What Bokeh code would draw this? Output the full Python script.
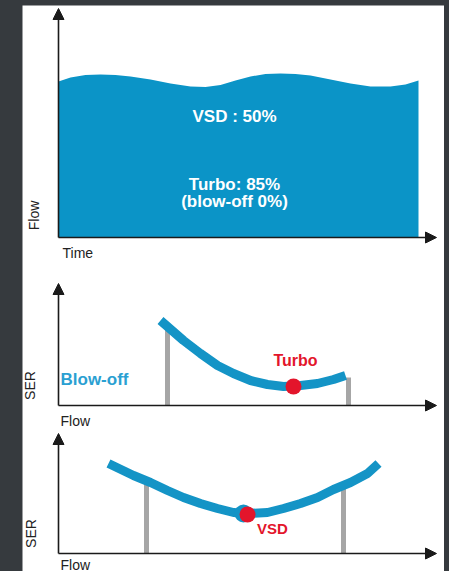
import math
from bokeh.plotting import figure
from bokeh.models import Range1d, Arrow, NormalHead, Label, GlobalInlineStyleSheet
from bokeh.layouts import column
from bokeh.embed import file_html
from bokeh.resources import INLINE

DARK = "#363a3e"
FILL_BLUE = "#0b94c7"
CURVE_BLUE = "#1494c6"
TEXT_BLUE = "#2aa0d2"
RED = "#e3152b"
GRAY = "#a6a6a6"
AXIS = "#1a1a1a"
FONT = "Liberation Sans"

# ---- Panel 1: flow over time ----
time_x = [0, 12, 27, 42, 57, 72, 92, 112, 132, 147, 162, 177, 192, 207, 222,
          237, 252, 272, 292, 312, 332, 347, 360]
flow_level = [156, 160, 162.5, 163, 162.5, 161, 158, 154, 151, 150.5, 152.5, 157,
              161, 163.5, 164, 163.5, 162, 158, 154, 151, 151, 153, 157]
time_axis_max = 378
flow_axis_max = 229
p1_labels = ["VSD : 50%", "Turbo: 85%", "(blow-off 0%)"]

# ---- Panel 2: turbo SER curve ----
turbo_flow = [102, 125, 142, 159, 175, 192, 209, 225, 242, 259, 275, 287]
turbo_ser = [85, 65, 52, 40, 32, 25, 21, 19, 20, 22, 26, 30]
turbo_limits_x = [109, 290]
turbo_limits_top = [76, 28]
turbo_point = (235, 19)
p2_axis_max = 122

# ---- Panel 3: VSD SER curve ----
vsd_flow = [50, 75, 92, 109, 125, 142, 159, 175, 189, 209, 225, 242, 259, 275, 292, 309, 320]
vsd_ser = [90, 78, 71, 63, 56, 50, 45, 41, 40, 41, 45, 50, 56, 64, 71, 80, 90]
vsd_limits_x = [88, 285]
vsd_limits_top = [70, 66]
vsd_point = (189, 39)
vsd_halo = (185, 40)
p3_axis_max = 120

W, H = 422, 566

p = figure(width=W, height=H, x_range=Range1d(-36, 386), y_range=Range1d(-334, 232),
           x_axis_location=None, y_axis_location=None, toolbar_location=None,
           output_backend="svg", min_border=0, outline_line_color=None,
           background_fill_color="white", border_fill_color="white")
p.grid.visible = False
p.outline_line_alpha = 0
p.extra_y_ranges = {"p2": Range1d(-166, 400), "p3": Range1d(-18, 548)}


def axes(ymax, rn="default"):
    for (x1, y1) in [(time_axis_max, 0), (0, ymax)]:
        p.add_layout(Arrow(end=NormalHead(size=11, fill_color=AXIS, line_color=AXIS),
                           x_start=0, y_start=0, x_end=x1, y_end=y1, y_range_name=rn,
                           line_width=1.6, line_color=AXIS))


def lab(x, y, t, rn="default", size="14px", color="#222222", bold=False, angle=0.0,
        align="center"):
    p.add_layout(Label(x=x, y=y, text=t, text_font=FONT, text_font_size=size,
                       text_color=color, text_font_style="bold" if bold else "normal",
                       text_align=align, text_baseline="middle", angle=angle,
                       y_range_name=rn))


# Panel 1
p.varea(x=time_x, y1=[0] * len(time_x), y2=flow_level, fill_color=FILL_BLUE)
axes(flow_axis_max)
lab(176, 121, p1_labels[0], size="17px", color="white", bold=True)
lab(176, 53.5, p1_labels[1], size="17px", color="white", bold=True)
lab(176, 36.5, p1_labels[2], size="17px", color="white", bold=True)
lab(-25, 22, "Flow", angle=math.pi / 2)
lab(4, -15, "Time", align="left")

# Panel 2
p.segment(x0=turbo_limits_x, y0=[0, 0], x1=turbo_limits_x, y1=turbo_limits_top,
          line_color=GRAY, line_width=5, y_range_name="p2")
p.line(turbo_flow, turbo_ser, line_color=CURVE_BLUE, line_width=9, line_cap="butt",
       line_join="round", y_range_name="p2")
p.scatter([turbo_point[0]], [turbo_point[1]], size=16, fill_color=RED, line_color=None,
          y_range_name="p2")
axes(p2_axis_max, "p2")
lab(237, 45, "Turbo", "p2", size="16px", color=RED, bold=True)
lab(2, 26, "Blow-off", "p2", size="17px", color=TEXT_BLUE, bold=True, align="left")
lab(-29, 20, "SER", "p2", angle=math.pi / 2)
lab(2, -15, "Flow", "p2", align="left")

# Panel 3
p.segment(x0=vsd_limits_x, y0=[0, 0], x1=vsd_limits_x, y1=vsd_limits_top,
          line_color=GRAY, line_width=5, y_range_name="p3")
p.line(vsd_flow, vsd_ser, line_color=CURVE_BLUE, line_width=9, line_cap="butt",
       line_join="round", y_range_name="p3")
p.scatter([vsd_halo[0]], [vsd_halo[1]], size=18, fill_color=CURVE_BLUE, line_color=None,
          y_range_name="p3")
p.scatter([vsd_point[0]], [vsd_point[1]], size=16, fill_color=RED, line_color=None,
          y_range_name="p3")
axes(p3_axis_max, "p3")
lab(214, 25.5, "VSD", "p3", size="15px", color=RED, bold=True)
lab(-28, 20, "SER", "p3", angle=math.pi / 2)
lab(2, -11, "Flow", "p3", align="left")

layout = column(p, spacing=0, margin=(5, 0, 0, 22),
                stylesheets=[GlobalInlineStyleSheet(css="html, body { background-color: #363a3e; }")])

open("out.html", "w").write(file_html(layout, INLINE))
